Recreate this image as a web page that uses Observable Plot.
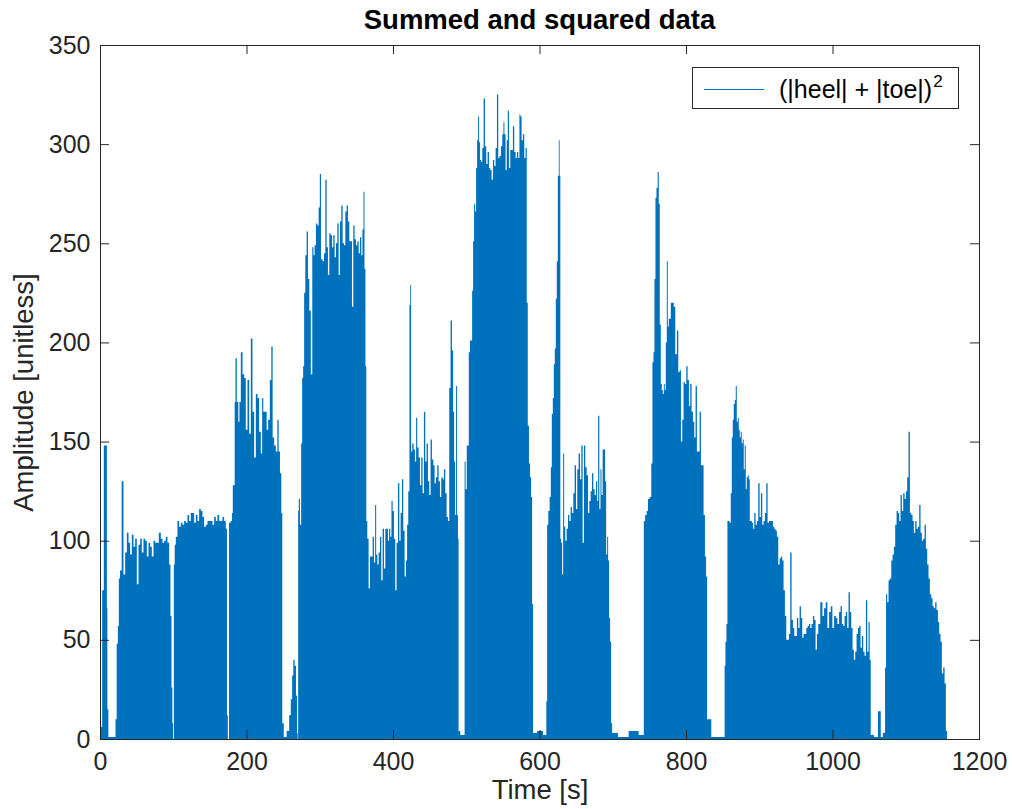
<!DOCTYPE html>
<html>
<head>
<meta charset="utf-8">
<script src="https://cdn.jsdelivr.net/npm/d3@7"></script>
<script src="https://cdn.jsdelivr.net/npm/@observablehq/plot@0.6"></script>
<style>
  html, body { margin: 0; padding: 0; background: #fff; }
  body { font-family: "Liberation Sans", Arial, Helvetica, sans-serif; width: 1012px; height: 809px; position: relative; overflow: hidden; }
  #title { height: 40px; line-height: 40px; padding-left: 100px; width: 879px; text-align: center; font-weight: bold; font-size: 27.5px; color: #000; }
  #legend { position: absolute; left: 692px; top: 67px; width: 265px; height: 40px; border: 1px solid #262626; background: #fff; }
  #legend .sample { position: absolute; left: 11px; top: 21px; width: 60px; height: 0; border-top: 1px solid #0072BD; }
  #legend .lbl { position: absolute; left: 86px; top: 1px; line-height: 40px; font-size: 25px; color: #000; white-space: nowrap; }
  #legend sup { font-size: 17px; vertical-align: 0; position: relative; top: -0.62em; margin-left: 1px; }
</style>
</head>
<body>
<div id="title">Summed and squared data</div>
<div id="chart"></div>
<div id="legend"><div class="sample"></div><div class="lbl">(|heel| + |toe|)<sup>2</sup></div></div>
<script>
// Tick values
const xTicks = [0, 200, 400, 600, 800, 1000, 1200];
const yTicks = [0, 50, 100, 150, 200, 250, 300, 350];

// Signal envelope: [time (s), amplitude]
const burstStart = [[0,0],[1.4,6],[4.5,75],[5.9,148],[7.2,148],[9.1,148],[9.6,66],[10.5,15],[12.3,1],[16,1],[20.5,1],[21.8,10]];
const burstWalk1 = [[23.7,48],[25.0,57],[26.4,81],[28.2,85],[30.9,130],[33.2,83],[35.5,94],[37.8,104],[40.0,99],[42.3,93],[44.6,103],[46.9,97],[49.1,101],[51.4,78],[53.7,98],[56.0,101],[58.2,94],[60.5,101],[62.8,100],[65.1,92],[67.3,99],[69.6,97],[71.9,92],[74.2,100],[76.4,99],[78.7,99],[81.9,104],[84.2,101],[86.4,99],[88.7,100],[91.0,102],[93.3,99],[95.5,88],[96.9,62],[98.3,26],[99.2,8],[100.1,0]];
const burstWalk2 = [[101.5,88],[102.4,98],[104.6,102],[106.9,110],[109.2,107],[111.5,109],[113.7,108],[116.0,110],[118.3,109],[120.6,113],[122.8,110],[125.1,114],[127.4,114],[129.7,109],[131.9,113],[134.2,110],[136.5,116],[138.8,115],[141.0,112],[143.3,107],[145.6,108],[147.9,110],[150.1,110],[152.4,110],[154.7,108],[157.0,112],[159.2,110],[161.5,113],[163.8,110],[166.1,110],[168.3,112],[170.6,110],[172.9,106],[173.8,12],[175.2,0]];
const burstWalk3 = [[177.0,109],[179.7,110],[180.6,114],[182.0,128],[183.4,128],[184.3,170],[185.6,192],[187.9,170],[189.7,160],[191.1,170],[193.4,195],[195.7,184],[197.9,182],[200.2,156],[202.5,181],[204.8,154],[207.0,202],[209.3,165],[211.6,142],[213.9,174],[216.1,172],[218.4,155],[220.7,144],[222.0,172],[223.9,165],[226.6,165],[228.4,156],[230.7,161],[233.0,181],[234.8,198],[236.6,152],[238.9,148],[241.2,145],[243.0,161],[244.8,145],[246.6,134],[248.4,114],[249.3,8],[252.5,1],[257.1,4],[259.4,12],[261.6,20],[263.0,32],[264.8,40],[266.6,37],[268.5,22],[269.4,3],[270.3,0]];
const burstRun1 = [[270.7,115],[272.1,121],[273.9,108],[275.3,149],[276.6,182],[278.0,188],[279.4,225],[281.2,244],[283.0,256],[284.8,232],[286.7,216],[288.9,184],[290.7,248],[292.1,244],[293.9,249],[295.7,260],[297.6,259],[299.4,268],[300.8,285],[302.6,242],[304.9,241],[306.7,245],[308.5,282],[310.3,248],[312.1,234],[314.0,255],[315.8,254],[317.6,248],[319.4,254],[321.2,243],[323.1,250],[324.9,260],[326.7,234],[328.5,261],[330.3,269],[332.2,250],[334.0,249],[335.8,266],[337.6,269],[339.4,261],[341.3,251],[343.1,251],[344.9,218],[346.7,259],[348.5,252],[350.4,249],[352.2,251],[354.0,245],[355.8,253],[357.6,244],[359.0,257],[360.4,276],[361.7,237],[363.1,188]];
const burstWalk4 = [[364.0,110],[365.8,101],[367.6,76],[369.5,92],[371.3,92],[373.1,102],[374.9,89],[376.3,118],[377.7,93],[379.5,88],[381.3,94],[383.1,102],[384.9,80],[386.8,106],[388.6,86],[390.4,106],[392.2,106],[394.0,100],[395.4,106],[397.2,102],[398.6,120],[400.4,115],[402.2,101],[404.0,75],[405.8,99],[407.7,129],[409.5,100],[411.3,114],[413.1,131],[414.9,105],[416.8,82],[418.6,90],[419.9,108],[421.8,125],[423.1,219],[424.0,229],[425.4,145],[427.2,149],[429.0,146],[430.9,140],[432.2,162],[434.0,147],[435.9,142],[437.7,128],[439.5,142],[441.3,124],[443.1,165],[445.0,140],[446.8,149],[448.6,130],[450.4,123],[452.2,151],[454.1,141],[455.9,138],[457.7,129],[459.5,132],[461.3,138],[463.2,130],[465.0,122],[466.8,132],[468.6,131],[470.4,136],[472.3,124],[474.1,112],[475.9,110],[477.7,177],[479.5,211],[481.4,196],[482.7,165],[484.1,140],[485.5,113],[486.8,178],[488.2,113],[489.1,101],[490.0,4],[493.7,2],[497.3,2]];
const burstRun2 = [[498.2,140],[500.0,126],[501.4,148],[502.8,148],[504.1,195],[505.9,201],[507.3,201],[508.7,226],[510.0,251],[511.4,270],[512.8,266],[514.1,288],[515.5,302],[516.9,314],[518.2,301],[519.6,292],[521.0,291],[522.8,298],[524.6,323],[526.4,299],[528.2,290],[530.1,296],[531.9,288],[533.7,287],[535.5,282],[537.3,292],[539.2,289],[541.0,298],[542.8,325],[544.6,293],[546.4,294],[548.3,299],[550.1,305],[551.4,311],[552.8,305],[554.6,287],[556.0,302],[557.4,317],[559.2,288],[561.0,297],[562.8,297],[564.6,309],[566.5,296],[568.3,293],[570.1,296],[571.9,293],[573.3,315],[574.6,314],[576.5,302],[578.3,305],[580.1,293],[581.9,298],[583.3,220],[584.7,158],[586.5,139],[587.8,132],[589.2,122],[590.6,68],[591.9,3],[592.5,3],[600.7,4],[608.8,2]];
const burstWalk5 = [[609.8,19],[611.1,108],[612.9,115],[614.8,122],[616.1,137],[617.5,164],[618.9,172],[620.2,189],[621.6,197],[622.9,222],[624.3,241],[625.7,284],[627.0,302],[628.0,284],[628.9,101],[630.2,99],[631.6,83],[633.0,144],[634.3,107],[636.1,100],[638.0,106],[639.8,113],[641.6,110],[643.4,117],[645.2,114],[647.1,124],[648.9,138],[650.7,116],[652.5,136],[654.3,144],[656.2,131],[658.0,148],[659.8,99],[661.6,148],[663.4,137],[665.3,133],[667.1,114],[668.9,120],[670.7,125],[672.5,134],[674.4,126],[676.2,123],[678.0,130],[679.4,120],[680.7,163],[682.6,116],[683.9,136],[685.3,123],[687.1,146],[688.9,146],[690.3,130],[691.7,93],[693.0,102],[694.4,90],[695.7,61],[697.1,49],[698.5,8],[699.8,3],[714.4,1],[729.0,4],[741.7,2]];
const burstRun3 = [[743.1,110],[745.3,113],[747.2,115],[749.0,121],[751.7,122],[753.5,139],[754.9,190],[756.3,195],[757.6,232],[759.0,273],[760.4,278],[762.2,286],[763.5,270],[764.9,209],[766.3,179],[767.6,176],[769.0,174],[770.4,179],[771.7,176],[773.1,200],[774.5,241],[775.8,208],[777.2,212],[778.6,212],[779.9,220],[781.3,220],[782.7,220],[784.0,218],[786.7,194],[788.5,206],[790.4,185],[792.2,186],[794.0,150],[795.8,161],[797.6,180],[799.5,179],[801.3,188],[803.1,181],[804.9,168],[806.7,179],[808.6,165],[810.4,160],[812.2,152],[814.0,178],[815.8,145],[817.7,145],[819.5,165],[821.3,138],[823.1,138],[824.9,113],[826.8,92],[828.1,82],[829.5,10],[839.5,1],[852.2,1]];
const burstWalk6 = [[853.2,37],[854.5,49],[855.9,58],[857.2,110],[858.6,110],[860.4,109],[861.8,124],[863.2,152],[864.5,161],[865.9,169],[867.3,171],[868.6,178],[870.0,160],[871.4,162],[872.7,156],[874.1,152],[875.4,155],[876.8,149],[878.2,151],[879.5,136],[880.9,148],[882.3,126],[883.6,132],[885.0,133],[886.4,131],[887.7,110],[889.1,110],[890.5,109],[892.3,106],[894.1,114],[895.9,108],[897.7,110],[899.6,129],[901.4,112],[903.2,124],[905.0,108],[906.8,110],[908.7,114],[910.5,129],[912.3,109],[914.1,110],[915.9,110],[917.8,110],[919.6,107],[921.4,106],[923.2,105],[925.0,102],[926.9,88],[928.7,91],[930.5,92],[932.3,90],[934.1,75],[936.0,62]];
const burstSlow = [[937.8,50],[939.6,50],[941.4,53],[943.2,94],[945.1,60],[946.9,56],[948.7,52],[950.5,52],[952.3,61],[954.2,56],[956.0,67],[957.8,61],[959.6,51],[961.4,53],[963.3,53],[965.1,56],[966.9,57],[968.7,58],[970.5,56],[972.4,58],[974.2,62],[976.0,60],[977.8,45],[979.6,53],[981.5,58],[985.1,69],[987.4,62],[989.6,66],[991.9,69],[994.2,56],[996.5,64],[998.7,67],[1001.0,56],[1003.3,62],[1005.6,61],[1007.8,58],[1010.1,64],[1011.9,67],[1013.7,58],[1015.6,57],[1017.4,62],[1019.2,64],[1021.0,56],[1022.8,74],[1024.7,64],[1026.5,56],[1028.3,45],[1030.1,40],[1031.9,44],[1033.8,53],[1035.6,56],[1037.4,57],[1039.2,46],[1041.0,52],[1042.9,44],[1044.7,42],[1046.5,70],[1048.3,44],[1050.1,59],[1051.5,40],[1052.9,2],[1060.2,1],[1063.8,14],[1065.2,14],[1066.5,1],[1071.1,3]];
const burstEnd = [[1072.4,36],[1073.8,73],[1075.6,69],[1077.4,80],[1079.3,81],[1081.1,90],[1082.9,93],[1084.7,97],[1086.5,108],[1088.4,115],[1090.2,114],[1092.0,110],[1093.8,123],[1095.6,115],[1097.5,124],[1099.3,121],[1101.1,125],[1102.9,132],[1104.7,155],[1106.6,114],[1108.4,113],[1110.2,110],[1112.0,104],[1113.8,110],[1115.7,106],[1117.5,107],[1119.3,118],[1121.1,104],[1122.9,100],[1124.8,101],[1126.6,108],[1128.4,96],[1130.2,88],[1132.0,81],[1133.9,73],[1135.7,71],[1137.5,67],[1139.3,66],[1141.1,69],[1143.0,65],[1144.8,59],[1146.6,53],[1148.4,49],[1150.2,33],[1152.1,36],[1153.9,28],[1155.7,4],[1157.1,0]];

const series = [burstStart, burstWalk1, burstWalk2, burstWalk3, burstRun1, burstWalk4, burstRun2, burstWalk5, burstRun3, burstWalk6, burstSlow, burstEnd]
  .flat().map(([t, v]) => ({t, v}));

const W = 1012, H = 769, mT = 5, mB = 70, mL = 100, mR = 33;
const innerH = H - mT - mB;
const innerW = W - mL - mR;
const ink = "#262626";

const chart = Plot.plot({
  width: W, height: H,
  marginTop: mT, marginBottom: mB, marginLeft: mL, marginRight: mR,
  x: {domain: [0, 1200]},
  y: {domain: [0, 350]},
  style: {fontFamily: "'Liberation Sans', Arial, Helvetica, sans-serif", color: ink, background: "#fff", overflow: "visible"},
  marks: [
    Plot.areaY(series, {x: "t", y: "v", curve: "step", fill: "#0072BD"}),
    Plot.frame({stroke: ink, strokeWidth: 1}),
    Plot.ruleX(xTicks, {x: d => d, insetTop: innerH - 9, stroke: ink}),
    Plot.ruleX(xTicks, {x: d => d, insetBottom: innerH - 9, stroke: ink}),
    Plot.ruleY(yTicks, {y: d => d, insetRight: innerW - 9, stroke: ink}),
    Plot.ruleY(yTicks, {y: d => d, insetLeft: innerW - 9, stroke: ink}),
    Plot.axisX(xTicks, {tickSize: 0, tickPadding: 13, fontSize: 25, label: null, tickFormat: d => String(d)}),
    Plot.axisY(yTicks, {tickSize: 0, tickPadding: 10, fontSize: 25, label: null, tickFormat: d => String(d)}),
    Plot.text(["Time [s]"], {frameAnchor: "bottom", dy: 59, fontSize: 27.5, fill: ink, textAnchor: "middle"}),
    Plot.text(["Amplitude [unitless]"], {frameAnchor: "left", dx: -76, rotate: -90, fontSize: 27.5, fill: ink, textAnchor: "middle"})
  ]
});
document.getElementById("chart").appendChild(chart);
</script>
</body>
</html>
